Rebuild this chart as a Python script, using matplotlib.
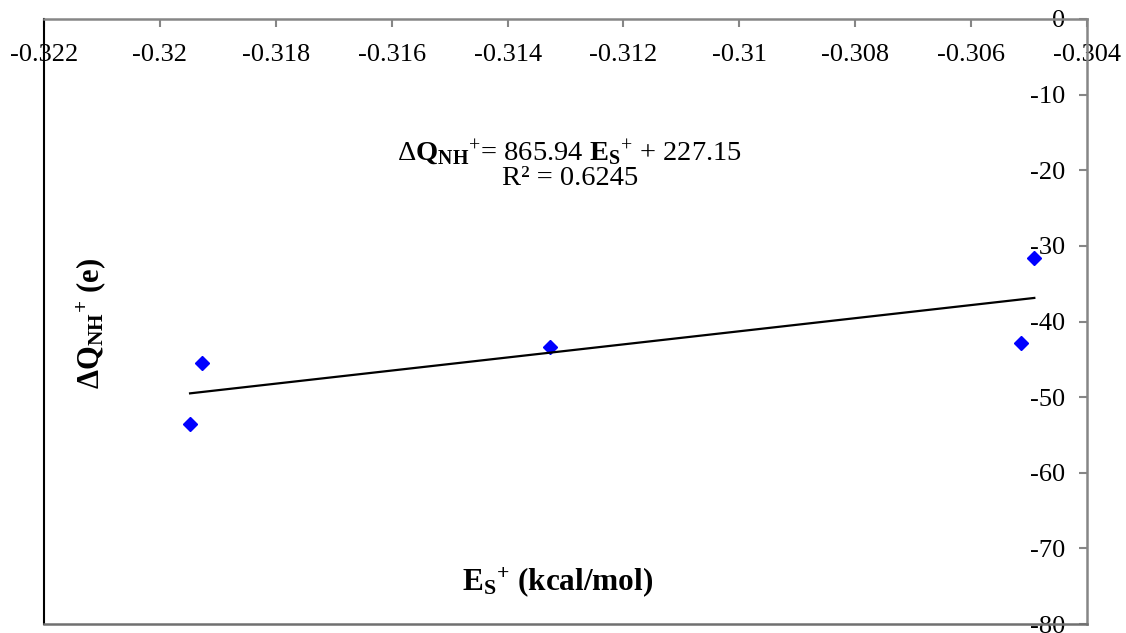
import numpy as np
import matplotlib
matplotlib.use("Agg")
import matplotlib.pyplot as plt

plt.rcParams['font.family'] = ['Liberation Serif', 'DejaVu Serif']
plt.rcParams['mathtext.fontset'] = 'custom'
plt.rcParams['mathtext.rm'] = 'Liberation Serif'
plt.rcParams['mathtext.it'] = 'Liberation Serif:italic'
plt.rcParams['mathtext.bf'] = 'Liberation Serif:bold'
plt.rcParams['mathtext.default'] = 'regular'
plt.rcParams['axes.unicode_minus'] = False

# data
es = [-0.31948, -0.31927, -0.31327, -0.30514, -0.30491]
dq = [-53.6, -45.5, -43.4, -42.8, -31.6]
slope, intercept = 865.94, 227.15
x_ticks = [-0.322, -0.32, -0.318, -0.316, -0.314, -0.312, -0.31, -0.308, -0.306, -0.304]
y_ticks = [-80, -70, -60, -50, -40, -30, -20, -10, 0]

fig = plt.figure(figsize=(11.26, 6.33), dpi=100)
ax = fig.add_axes([0.0391, 0.0142, 0.9263, 0.9558])

ax.plot(es, dq, linestyle='none', marker='D', markersize=7.5, color='#0000FF')
xfit = np.array([min(es), max(es)])
ax.plot(xfit, slope * xfit + intercept, color='black', lw=1.6)

ax.set_xlim(-0.322, -0.304)
ax.set_ylim(-80, 0)
ax.set_xticks(x_ticks)
ax.set_yticks(y_ticks)
ax.set_xticklabels(['%g' % v for v in x_ticks])
ax.set_yticklabels(['%g' % v for v in y_ticks])

grey = '#868686'
ax.tick_params(axis='x', bottom=False, labelbottom=False, top=True, labeltop=True,
               direction='in', length=6, width=1.5, color=grey, pad=-34, labelsize=19)
ax.tick_params(axis='y', left=False, labelleft=False, right=True, labelright=True,
               direction='in', length=6, width=1.5, color=grey, pad=-16, labelsize=19)
for t in ax.yaxis.get_major_ticks():
    t.label2.set_horizontalalignment('right')

ax.spines['top'].set_color(grey)
ax.spines['top'].set_linewidth(1.8)
ax.spines['right'].set_color(grey)
ax.spines['right'].set_linewidth(1.8)
ax.spines['left'].set_color('black')
ax.spines['left'].set_linewidth(1.5)
ax.spines['bottom'].set_color('#707070')
ax.spines['bottom'].set_linewidth(1.8)

ax.set_xlabel(r'$\mathbf{E}_{\mathbf{S}}{}^{+}$ (kcal/mol)', fontsize=22.5, fontweight='bold')
ax.xaxis.set_label_position('bottom')
ax.xaxis.label.set_verticalalignment('center')
ax.xaxis.set_label_coords(0.492, 0.0693)

ax.set_ylabel(r'$\Delta\mathbf{Q}_{\mathbf{NH}}{}^{+}$ (e)', fontsize=22, fontweight='bold')
ax.yaxis.set_label_position('left')
ax.yaxis.set_label_coords(0.061, 0.4975)

ax.text(0.504, 0.767, r'$\Delta\mathbf{Q}_{\mathbf{NH}}{}^{+}$= 865.94 $\mathbf{E}_{\mathbf{S}}{}^{+}$ + 227.15',
        transform=ax.transAxes, ha='center', va='baseline', fontsize=20.5)
ax.text(0.504, 0.7256, 'R² = 0.6245', transform=ax.transAxes, ha='center', va='baseline', fontsize=20.5)

fig.savefig('out.png', dpi=100)
